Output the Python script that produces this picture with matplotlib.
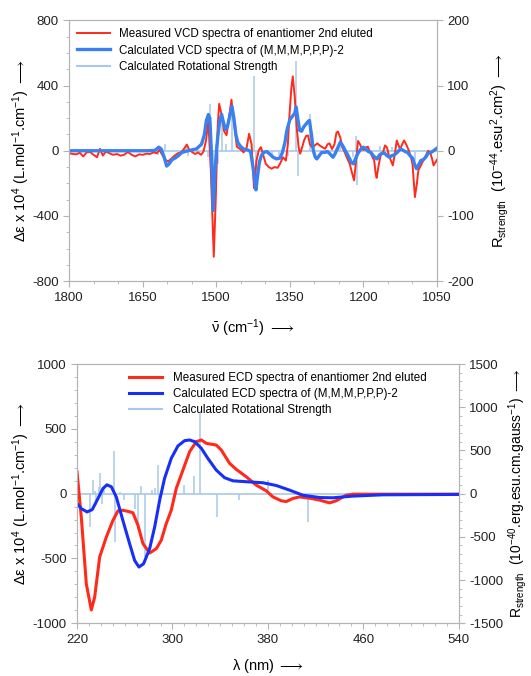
import matplotlib
matplotlib.use("Agg")
import matplotlib.pyplot as plt
from matplotlib.ticker import MultipleLocator

plt.rcParams['font.family'] = ['Liberation Sans', 'DejaVu Sans']
plt.rcParams['mathtext.fontset'] = 'custom'
plt.rcParams['mathtext.rm'] = 'Liberation Sans'
plt.rcParams['mathtext.it'] = 'Liberation Sans:italic'
plt.rcParams['mathtext.default'] = 'regular'
plt.rcParams['mathtext.fallback'] = 'stixsans'
plt.rcParams['axes.unicode_minus'] = False

# ---- VCD (top panel) ----
vcd_meas_x = [1800, 1792, 1785, 1778, 1771, 1764, 1757, 1750, 1743, 1737, 1731, 1725, 1718, 1710,
              1702, 1695, 1688, 1680, 1672, 1665, 1657, 1650, 1642, 1635, 1628, 1621, 1616, 1610,
              1604, 1598, 1592, 1585, 1578, 1572, 1566, 1560, 1555, 1549, 1543, 1537, 1531, 1526,
              1521, 1516, 1511, 1505, 1501, 1497, 1494, 1489, 1484, 1479, 1474, 1469, 1464, 1458,
              1451, 1444, 1438, 1433, 1428, 1423, 1418, 1413, 1409, 1404, 1399, 1393, 1387, 1381,
              1375, 1370, 1364, 1358, 1354, 1351, 1347, 1344, 1340, 1336, 1332, 1329, 1325, 1321,
              1317, 1313, 1309, 1305, 1300, 1294, 1288, 1283, 1278, 1273, 1269, 1264, 1259, 1255,
              1252, 1247, 1243, 1238, 1234, 1228, 1222, 1219, 1215, 1211, 1207, 1203, 1199, 1195,
              1191, 1187, 1183, 1178, 1175, 1173, 1169, 1165, 1160, 1156, 1152, 1148, 1144, 1140,
              1136, 1132, 1128, 1125, 1121, 1117, 1113, 1108, 1104, 1100, 1097, 1095, 1091, 1088,
              1083, 1078, 1073, 1068, 1064, 1060, 1057, 1053, 1050]
vcd_meas_y = [-15, -20, -22, -12, -35, -10, -8, -25, -40, 12, -30, -5, -15, -25,
              -20, -30, -25, -8, -25, -35, -22, -25, -18, -20, -10, -15, 5, -25,
              -55, -65, -50, -30, -15, -10, 10, 38, 5, -8, -20, -10, -25, -5,
              60, 180, -120, -650, -300, 150, 288, 220, 120, 95, 200, 313, 180, 25,
              10, -10, 20, 104, 40, -229, -60, 5, 22, -30, -80, -100, -110, -100,
              -105, -80, -40, -60, 40, 206, 380, 456, 330, 145, 20, -18, 20, 63,
              90, 94, 40, 22, 30, 45, 30, 20, 12, 40, 45, 10, 40, 110,
              118, 80, 20, -10, -40, -80, -150, -182, -60, 60, 40, 10, 5, 20,
              25, -5, -30, -60, -140, -166, -90, -30, -10, 33, 20, -30, -60, -90,
              -20, 63, 30, 10, 40, 63, 40, 5, -30, -80, -200, -284, -200, -120,
              -90, -60, -30, 0, -10, -50, -90, -70, -55]

vcd_calc_x = [1800, 1640, 1625, 1617, 1612, 1606, 1601, 1596, 1590, 1584, 1577, 1570, 1560, 1550,
              1540, 1530, 1524, 1520, 1516, 1513, 1510, 1506, 1503, 1500, 1497, 1493, 1489, 1485,
              1481, 1477, 1472, 1468, 1464, 1460, 1456, 1450, 1444, 1436, 1430, 1425, 1421, 1419,
              1416, 1412, 1408, 1403, 1397, 1391, 1384, 1377, 1370, 1365, 1360, 1356, 1350, 1346,
              1340, 1337, 1334, 1330, 1326, 1322, 1318, 1314, 1310, 1306, 1302, 1298, 1295, 1290,
              1285, 1279, 1273, 1268, 1262, 1258, 1252, 1247, 1242, 1237, 1233, 1228, 1224, 1220,
              1215, 1210, 1204, 1200, 1195, 1190, 1185, 1180, 1175, 1172, 1167, 1162, 1157, 1152,
              1147, 1142, 1137, 1131, 1125, 1120, 1115, 1110, 1105, 1100, 1096, 1092, 1088, 1083,
              1078, 1073, 1068, 1062, 1057, 1050]
vcd_calc_y = [0, 0, 2, 22, 10, -40, -94, -80, -55, -45, -30, -10, -2, 5,
              12, 40, 100, 186, 222, 200, 0, -366, -150, -20, 80, 180, 223, 170,
              130, 150, 220, 272, 200, 100, 50, 25, 10, 5, -5, -100, -200, -240,
              -160, -70, -30, -10, -5, -20, -40, -50, -45, -10, 50, 125, 190, 206,
              230, 268, 200, 125, 120, 145, 160, 175, 186, 100, 0, -40, -50, -30,
              -10, -10, -5, -20, -40, -20, 20, 53, 30, 0, -20, -50, -75, -80,
              -40, -10, 15, 22, 10, -5, -10, -30, -45, -50, -25, -15, -15, -30,
              -40, -30, -25, -10, 10, 5, -5, -10, -30, -45, -80, -110, -90, -60,
              -55, -40, -15, -10, 0, 16]

vcd_stick_x = [1619, 1605, 1562, 1558, 1517, 1513, 1506, 1500, 1496, 1488, 1480, 1468, 1424, 1419,
               1405, 1386, 1373, 1353, 1337, 1333, 1308, 1300, 1248, 1222, 1216, 1214, 1166, 1142,
               1095, 1070]
vcd_stick_r = [-7, 11, 8, -8, -10, 71, -91, 10, -20, 57, 10, 72, 115, -56,
               -5, -10, -8, -8, 137, -39, 57, -5, 16, -10, 23, -53, 8, 6,
               -15, -5]

# ---- ECD (bottom panel) ----
ecd_meas_x = [220, 223.6, 227.8, 232, 234.8, 239, 244.6, 250.2, 254.3, 258.5, 264.1, 266.9, 271.1,
              275.3, 280.9, 286.5, 290.6, 294.8, 299, 303.2, 308.8, 314.4, 320, 324.2, 328.4, 336.7,
              340.9, 347.9, 353.5, 361.9, 370.2, 378.6, 384.2, 391.2, 395.4, 401, 406.5, 416.3,
              423.3, 431.7, 437.3, 445.6, 451.2, 540]
ecd_meas_y = [169, -180, -696, -897, -799, -489, -334, -205, -133, -128, -140, -148, -244,
              -386, -458, -424, -360, -231, -128, 40, 182, 324, 401, 414, 388, 375,
              337, 234, 187, 130, 66, 22, -25, -55, -61, -37, -25, -37,
              -50, -71, -55, -12, -4, -4]

ecd_calc_x = [220, 223.6, 228.4, 232.8, 237.6, 241.8, 245.1, 248.8, 253, 258.5, 264.1, 268.3, 271.9,
              275.8, 280.9, 285.1, 289.3, 293.4, 299, 304.6, 310.2, 314.4, 318.6, 324.2, 329.7,
              336.7, 343.7, 350.7, 361.9, 375.8, 387, 398.2, 409.3, 423.3, 434.5, 451.2, 476.4, 540]
ecd_calc_y = [-76, -115, -141, -123, -37, 40, 68, 53, -27, -208, -386, -515, -566,
              -541, -424, -257, -50, 118, 272, 368, 409, 414, 401, 350, 272,
              182, 123, 99, 92, 84, 63, 27, -12, -30, -32, -19, -9, -6]

ecd_stick_x = [230.6, 233.4, 235.4, 236.2, 238.4, 239.5, 241.2, 242.3, 251, 251.6, 255.7, 259.1,
               268.3, 271.1, 273.9, 276.7, 283.1, 285.1, 287.6, 288.7, 309.4, 317.7, 322.8, 337.3,
               355.4, 380, 413.5]
ecd_stick_r = [-385, 157, 29, -134, 79, 234, -114, 79, 494, -559, 21, -68,
               -172, -424, 87, -734, 41, 60, 331, -56, 99, 207, 931, -269,
               -68, 157, -327]

ecd_xticks = [220, 300, 380, 460, 540]

RED = '#ff2a1a'
BLUE_TOP = '#3a80f0'
BLUE_BOT = '#1830f5'
STICK = '#a9c7e8'
SPINE = '#b4b4b4'
ARROW = r' $\longrightarrow$'

fig = plt.figure(figsize=(5.31, 6.76), dpi=100)


def style_axes(ax, ax2):
    for a in (ax, ax2):
        for s in a.spines.values():
            s.set_color(SPINE)
        a.tick_params(which='both', direction='out', colors=SPINE, labelcolor='#222222',
                      labelsize=9.5)
        a.tick_params(which='major', length=4)
        a.tick_params(which='minor', length=2.5)
    ax.set_zorder(ax2.get_zorder() + 1)
    ax.patch.set_visible(False)


# top panel
ax = fig.add_axes([0.130, 0.584, 0.693, 0.386])
ax2 = ax.twinx()
ax2.axhline(0, color=STICK, lw=1.2)
ax2.vlines(vcd_stick_x, 0, vcd_stick_r, color=STICK, lw=1.1)
ax.plot(vcd_meas_x, vcd_meas_y, color=RED, lw=1.4, label='Measured VCD spectra of enantiomer 2nd eluted')
ax.plot(vcd_calc_x, vcd_calc_y, color=BLUE_TOP, lw=2.4, label='Calculated VCD spectra of (M,M,M,P,P,P)-2')
ax.plot([], [], color=STICK, lw=1.5, label='Calculated Rotational Strength')
ax.set_xlim(1800, 1050)
ax.set_ylim(-800, 800)
ax2.set_ylim(-200, 200)
ax.xaxis.set_major_locator(MultipleLocator(150))
ax.xaxis.set_minor_locator(MultipleLocator(50))
ax.yaxis.set_major_locator(MultipleLocator(400))
ax.yaxis.set_minor_locator(MultipleLocator(100))
ax2.yaxis.set_major_locator(MultipleLocator(100))
style_axes(ax, ax2)
ax.legend(loc='upper left', frameon=False, fontsize=8.4, handlelength=2.8,
          handletextpad=0.8, labelspacing=0.35, borderaxespad=0.3)
ax.set_xlabel(r'$\bar{\nu}$ (cm$^{-1}$)' + ARROW, fontsize=10.5, labelpad=10)
ax.set_ylabel(r'Δε x 10$^4$ (L.mol$^{-1}$.cm$^{-1}$)' + ARROW, fontsize=10.5, labelpad=0)
ax2.set_ylabel(r'R$_{strength}$  (10$^{-44}$.esu$^2$.cm$^2$)' + ARROW, fontsize=10.5, labelpad=10)

# bottom panel
bx = fig.add_axes([0.145, 0.078, 0.719, 0.3835])
bx2 = bx.twinx()
bx2.axhline(0, color=STICK, lw=1.2)
bx2.vlines(ecd_stick_x, 0, ecd_stick_r, color=STICK, lw=1.1)
bx.plot(ecd_meas_x, ecd_meas_y, color=RED, lw=2.2, label='Measured ECD spectra of enantiomer 2nd eluted')
bx.plot(ecd_calc_x, ecd_calc_y, color=BLUE_BOT, lw=2.2, label='Calculated ECD spectra of (M,M,M,P,P,P)-2')
bx.plot([], [], color=STICK, lw=1.5, label='Calculated Rotational Strength')
bx.set_xlim(220, 540)
bx.set_ylim(-1000, 1000)
bx2.set_ylim(-1500, 1500)
bx.set_xticks(ecd_xticks)
bx.xaxis.set_minor_locator(MultipleLocator(10))
bx.yaxis.set_major_locator(MultipleLocator(500))
bx.yaxis.set_minor_locator(MultipleLocator(100))
bx2.yaxis.set_major_locator(MultipleLocator(500))
bx2.yaxis.set_minor_locator(MultipleLocator(100))
style_axes(bx, bx2)
bx.legend(loc='upper left', bbox_to_anchor=(0.115, 1.0), frameon=False, fontsize=8.4,
          handlelength=2.8, handletextpad=1.0, labelspacing=0.35, borderaxespad=0.3)
bx.set_xlabel('λ (nm)' + ARROW, fontsize=10.5, labelpad=8)
bx.set_ylabel(r'Δε x 10$^4$ (L.mol$^{-1}$.cm$^{-1}$)' + ARROW, fontsize=10.5, labelpad=0)
bx2.set_ylabel(r'R$_{strength}$  (10$^{-40}$.erg.esu.cm.gauss$^{-1}$)' + ARROW, fontsize=10, labelpad=2)

fig.savefig('out.png', dpi=100)
